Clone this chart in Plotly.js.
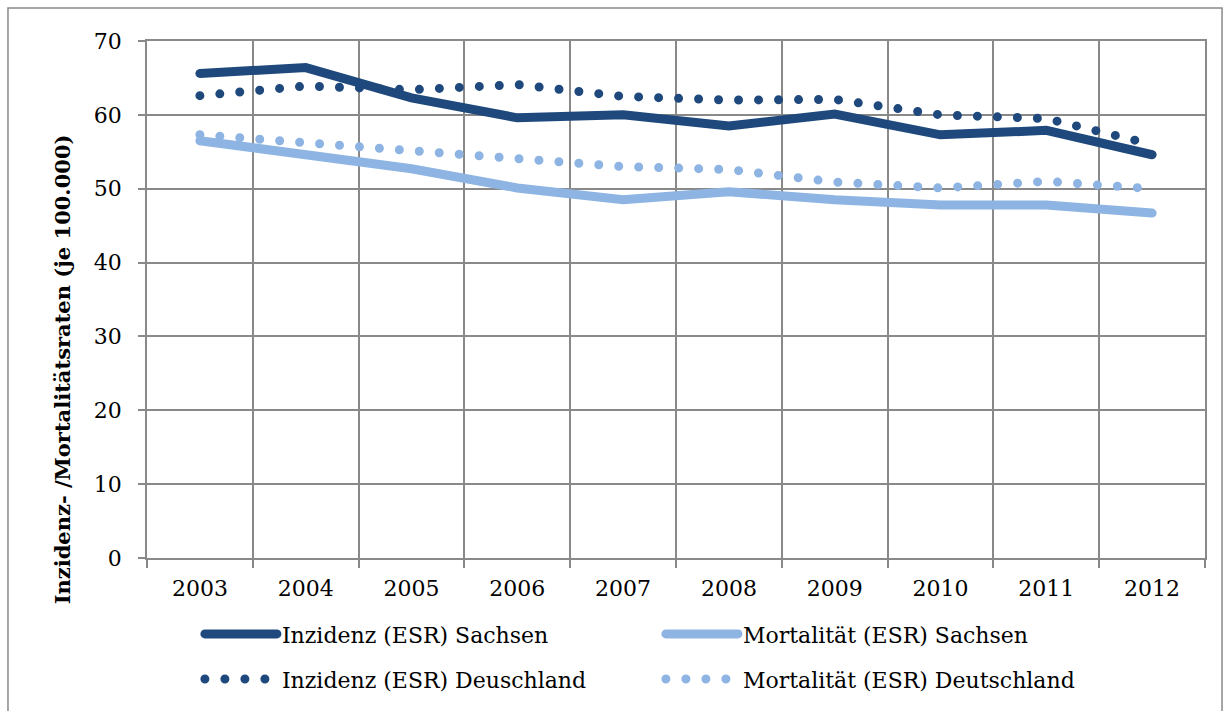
<!DOCTYPE html>
<html>
<head>
<meta charset="utf-8">
<script src="https://cdn.plot.ly/plotly-3.0.1.min.js"></script>
<style>
  html, body { margin: 0; padding: 0; background: #fff; }
  #chart { width: 1230px; height: 711px; }
  .js-plotly-plot path.js-line { stroke-linecap: round !important; }
</style>
</head>
<body>
<div id="chart"></div>
<script>
const jahre = ['2003', '2004', '2005', '2006', '2007', '2008', '2009', '2010', '2011', '2012'];

const inzidenzSachsen = [65.6, 66.4, 62.3, 59.6, 60.0, 58.5, 60.1, 57.3, 57.9, 54.6];
const mortalitaetSachsen = [56.5, 54.6, 52.7, 50.1, 48.5, 49.6, 48.5, 47.8, 47.8, 46.7];
const inzidenzDeutschland = [62.6, 63.9, 63.4, 64.1, 62.5, 62.0, 62.1, 60.0, 59.5, 56.0];
const mortalitaetDeutschland = [57.3, 56.2, 55.1, 54.0, 53.0, 52.6, 50.9, 50.1, 51.0, 50.0];

const dunkel = '#1F497D';
const hell = '#8DB4E2';
const schrift = 'DejaVu Serif, serif';

function linie(name, werte, farbe, gepunktet) {
  return {
    type: 'scatter',
    mode: 'lines',
    name: name,
    x: jahre,
    y: werte,
    // Deutschland-Reihen als runde Punkte, Sachsen durchgezogen
    line: { color: farbe, width: 9, dash: gepunktet ? '0px,20px' : 'solid' },
    legend: gepunktet ? 'legend2' : 'legend',
    hoverinfo: 'x+y+name'
  };
}

const daten = [
  linie('Inzidenz (ESR) Sachsen', inzidenzSachsen, dunkel, false),
  linie('Mortalität (ESR) Sachsen', mortalitaetSachsen, hell, false),
  linie('Inzidenz (ESR) Deuschland', inzidenzDeutschland, dunkel, true),
  linie('Mortalität (ESR) Deutschland', mortalitaetDeutschland, hell, true)
];

function legende(y) {
  return {
    orientation: 'h',
    x: 0.05,
    xanchor: 'left',
    y: y,
    yanchor: 'middle',
    itemwidth: 72,
    entrywidth: 374,
    entrywidthmode: 'pixels',
    traceorder: 'normal',
    font: { family: schrift, size: 22, color: '#000' },
    bgcolor: 'rgba(0,0,0,0)'
  };
}

const layout = {
  width: 1230,
  height: 711,
  margin: { l: 147, r: 25, t: 41, b: 152 },
  paper_bgcolor: '#fff',
  plot_bgcolor: '#fff',
  font: { family: schrift, size: 22, color: '#000' },
  xaxis: {
    type: 'category',
    range: [-0.5, 9.5],
    tickson: 'boundaries',
    ticks: 'outside',
    ticklen: 8,
    tickcolor: '#898989',
    tickwidth: 1.5,
    showgrid: true,
    gridcolor: '#898989',
    gridwidth: 1.5,
    showline: true,
    linecolor: '#898989',
    linewidth: 1.5,
    mirror: true,
    ticklabelstandoff: 10,
    tickfont: { family: schrift, size: 22, color: '#000' }
  },
  yaxis: {
    range: [0, 70],
    dtick: 10,
    ticks: 'outside',
    ticklen: 7,
    tickcolor: '#898989',
    tickwidth: 1.5,
    showgrid: true,
    gridcolor: '#898989',
    gridwidth: 1.5,
    zeroline: false,
    showline: true,
    linecolor: '#898989',
    linewidth: 1.5,
    mirror: true,
    ticklabelstandoff: 12,
    tickfont: { family: schrift, size: 22, color: '#000' }
  },
  showlegend: true,
  legend: legende(-0.145),
  legend2: legende(-0.232),
  annotations: [{
    // Achsentitel wie im Original etwas nach unten versetzt
    text: '<b>Inzidenz- /Mortalitätsraten (je 100.000)</b>',
    xref: 'paper',
    yref: 'paper',
    x: -0.0803,
    y: 0.365,
    xanchor: 'center',
    yanchor: 'middle',
    textangle: -90,
    showarrow: false,
    font: { family: schrift, size: 21, color: '#000' }
  }],
  shapes: [{
    type: 'rect',
    xref: 'paper',
    yref: 'paper',
    x0: -0.1314,
    x1: 1.0161,
    y0: -0.32,
    y1: 1.0637,
    line: { color: '#898989', width: 1.5 },
    fillcolor: 'rgba(0,0,0,0)',
    layer: 'below'
  }]
};

Plotly.newPlot('chart', daten, layout, { displayModeBar: false, responsive: false });
</script>
</body>
</html>
